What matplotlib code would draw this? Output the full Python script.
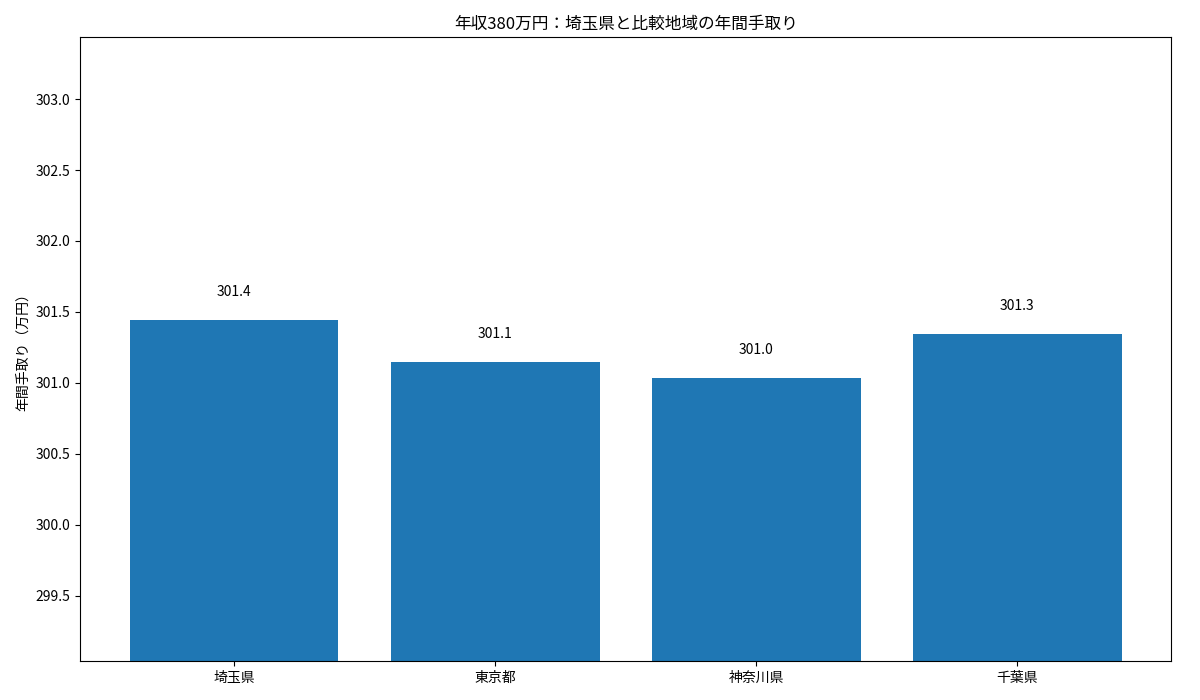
import matplotlib
matplotlib.use("Agg")
import matplotlib.pyplot as plt

plt.rcParams['font.family'] = ['Noto Sans CJK JP', 'DejaVu Sans']

regions = ["埼玉県", "東京都", "神奈川県", "千葉県"]
takehome = [301.444, 301.148, 301.035, 301.345]

fig, ax = plt.subplots(figsize=(12, 7), dpi=100)
fig.subplots_adjust(left=0.0667, right=0.976, top=0.947, bottom=0.056)
bars = ax.bar(regions, takehome, color="#1f77b4")
for b, v in zip(bars, takehome):
    ax.annotate(f"{v:.1f}", (b.get_x() + b.get_width() / 2, v),
                xytext=(0, 15), textcoords="offset points", ha="center", va="bottom")
ax.set_ylim(299.04, 303.437)
ax.set_ylabel("年間手取り（万円）")
ax.set_title("年収380万円：埼玉県と比較地域の年間手取り")
ax.ticklabel_format(axis='y', useOffset=False)
ax.yaxis.set_major_formatter(matplotlib.ticker.FormatStrFormatter('%.1f'))
fig.savefig("out.png")
